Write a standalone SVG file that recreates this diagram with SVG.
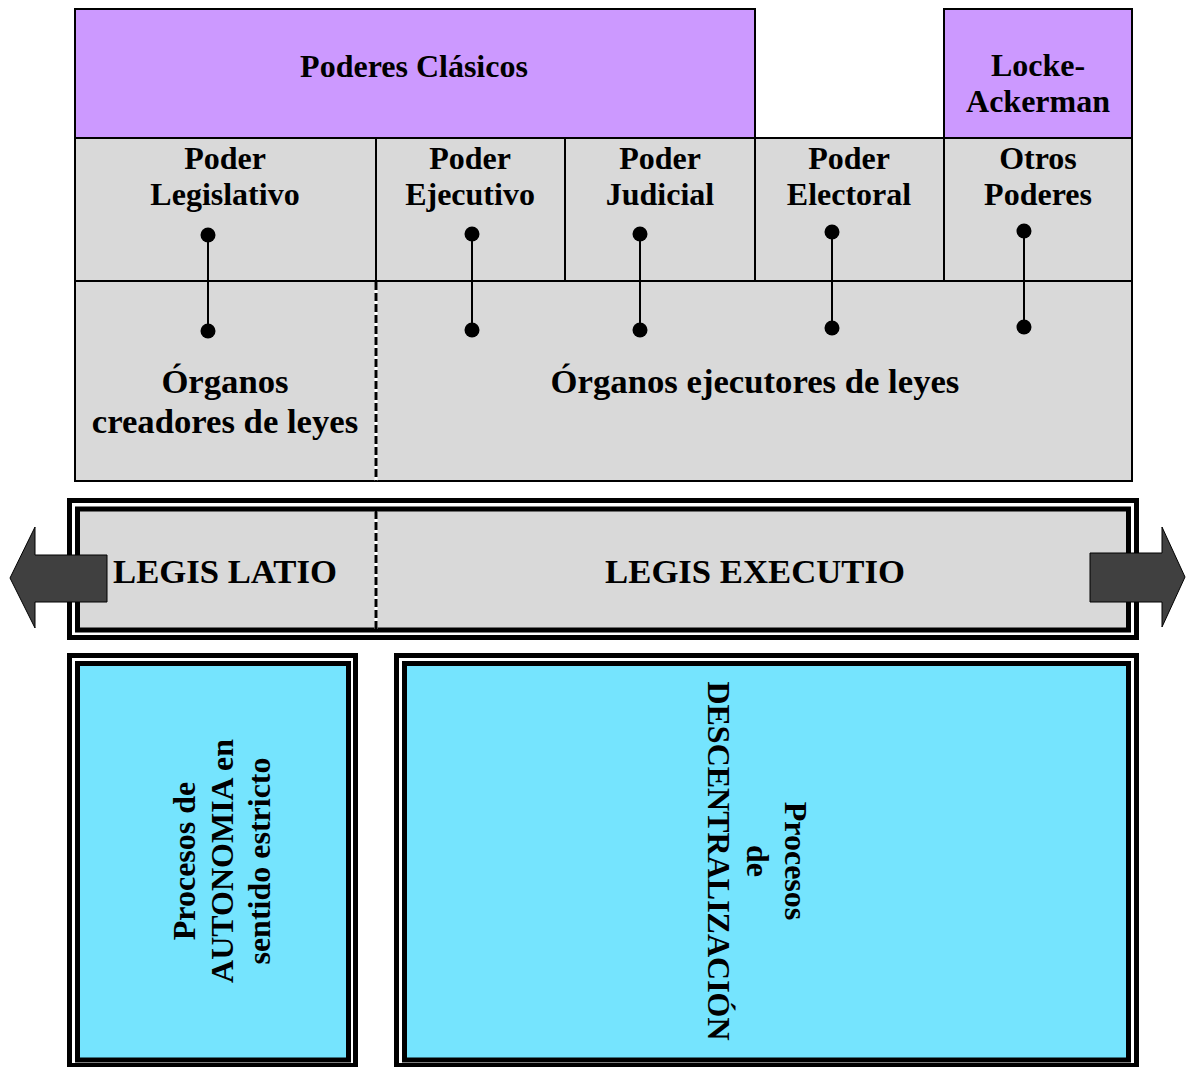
<svg xmlns="http://www.w3.org/2000/svg" width="1187" height="1067" viewBox="0 0 1187 1067">
  <style>
    .purple { fill: #cc99ff; stroke: #000; stroke-width: 2; }
    .cell { fill: #d9d9d9; stroke: #000; stroke-width: 2; }
    .dash-bg { stroke: #fff; stroke-width: 3; fill: none; }
    .dash { stroke: #000; stroke-width: 3; stroke-dasharray: 8 3; fill: none; }
    .thick { fill: none; stroke: #000; stroke-width: 5; }
    .band { fill: #d9d9d9; }
    .cyan { fill: #75e4fe; }
    .arrow { fill: #404040; stroke: #000; stroke-width: 1; }
    .link { stroke: #000; stroke-width: 2; }
    .dot { fill: #000; }
    text { font-family: "Liberation Serif", "Times New Roman", serif; font-weight: bold; fill: #000; text-anchor: middle; }
    .h { font-size: 32px; }
    .b { font-size: 34.7px; }
    .r { font-size: 32px; }
  </style>

  <!-- lower grey area of the table -->
  <g id="organos">
    <rect class="cell" x="75" y="281" width="1057" height="200"/>
    <line class="dash-bg" x1="376" y1="282" x2="376" y2="481"/>
    <line class="dash" x1="376" y1="282" x2="376" y2="481"/>
  </g>

  <g id="header-clasicos">
    <rect class="purple" x="75" y="9" width="680" height="129"/>
    <text class="h" x="414" y="77">Poderes Clásicos</text>
  </g>

  <g id="header-locke">
    <rect class="purple" x="944" y="9" width="188" height="129"/>
    <text class="h" x="1038" y="76">Locke-</text>
    <text class="h" x="1038" y="112">Ackerman</text>
  </g>

  <g id="poder-legislativo">
    <rect class="cell" x="75" y="138" width="301" height="143"/>
    <text class="h" x="225" y="169">Poder</text>
    <text class="h" x="225" y="205">Legislativo</text>
  </g>

  <g id="poder-ejecutivo">
    <rect class="cell" x="376" y="138" width="189" height="143"/>
    <text class="h" x="470" y="169">Poder</text>
    <text class="h" x="470" y="205">Ejecutivo</text>
  </g>

  <g id="poder-judicial">
    <rect class="cell" x="565" y="138" width="190" height="143"/>
    <text class="h" x="660" y="169">Poder</text>
    <text class="h" x="660" y="205">Judicial</text>
  </g>

  <g id="poder-electoral">
    <rect class="cell" x="755" y="138" width="189" height="143"/>
    <text class="h" x="849" y="169">Poder</text>
    <text class="h" x="849" y="205">Electoral</text>
  </g>

  <g id="otros-poderes">
    <rect class="cell" x="944" y="138" width="188" height="143"/>
    <text class="h" x="1038" y="169">Otros</text>
    <text class="h" x="1038" y="205">Poderes</text>
  </g>

  <g id="organos-creadores">
    <text class="b" x="225" y="393">Órganos</text>
    <text class="b" x="225" y="433">creadores de leyes</text>
  </g>

  <g id="organos-ejecutores">
    <text class="b" x="755" y="393">Órganos ejecutores de leyes</text>
  </g>

  <!-- pin connectors from each power to its organ -->
  <g id="connectors">
    <line class="link" x1="208" y1="235" x2="208" y2="331"/>
    <circle class="dot" cx="208" cy="235" r="7.5"/>
    <circle class="dot" cx="208" cy="331" r="7.5"/>

    <line class="link" x1="472" y1="234" x2="472" y2="330"/>
    <circle class="dot" cx="472" cy="234" r="7.5"/>
    <circle class="dot" cx="472" cy="330" r="7.5"/>

    <line class="link" x1="640" y1="234" x2="640" y2="330"/>
    <circle class="dot" cx="640" cy="234" r="7.5"/>
    <circle class="dot" cx="640" cy="330" r="7.5"/>

    <line class="link" x1="832" y1="232" x2="832" y2="328"/>
    <circle class="dot" cx="832" cy="232" r="7.5"/>
    <circle class="dot" cx="832" cy="328" r="7.5"/>

    <line class="link" x1="1024" y1="231" x2="1024" y2="327"/>
    <circle class="dot" cx="1024" cy="231" r="7.5"/>
    <circle class="dot" cx="1024" cy="327" r="7.5"/>
  </g>

  <!-- LEGIS band with double frame -->
  <g id="band-legis">
    <rect class="band" x="78" y="510" width="1050" height="120"/>
    <rect class="thick" x="69.5" y="500.5" width="1067" height="137"/>
    <rect class="thick" x="77.5" y="509" width="1051" height="121"/>
    <line class="dash-bg" x1="376" y1="511" x2="376" y2="629"/>
    <line class="dash" x1="376" y1="511" x2="376" y2="629"/>
    <text class="b" x="225" y="583">LEGIS LATIO</text>
    <text class="b" x="755" y="583">LEGIS EXECUTIO</text>
  </g>

  <g id="arrow-left">
    <polygon class="arrow" points="107,555 35,555 35,527 10,578 35,628 35,602 107,602"/>
  </g>

  <g id="arrow-right">
    <polygon class="arrow" points="1090,553 1162,553 1162,527 1185,577 1162,627 1162,602 1090,602"/>
  </g>

  <g id="box-autonomia">
    <rect class="cyan" x="78" y="664" width="270" height="395"/>
    <rect class="thick" x="69.5" y="655.5" width="286" height="410"/>
    <rect class="thick" x="77.5" y="663.5" width="271" height="396.5"/>
    <text class="r" transform="translate(195,861) rotate(-90)">Procesos de</text>
    <text class="r" transform="translate(233,861) rotate(-90)">AUTONOMIA en</text>
    <text class="r" transform="translate(270,861) rotate(-90)">sentido estricto</text>
  </g>

  <g id="box-descentralizacion">
    <rect class="cyan" x="405" y="664" width="723" height="395"/>
    <rect class="thick" x="396.5" y="655.5" width="740" height="410"/>
    <rect class="thick" x="404.5" y="663.5" width="724" height="396.5"/>
    <text class="r" transform="translate(785,861) rotate(90)">Procesos</text>
    <text class="r" transform="translate(747,861) rotate(90)">de</text>
    <text class="r" transform="translate(708,861) rotate(90)">DESCENTRALIZACIÓN</text>
  </g>
</svg>
